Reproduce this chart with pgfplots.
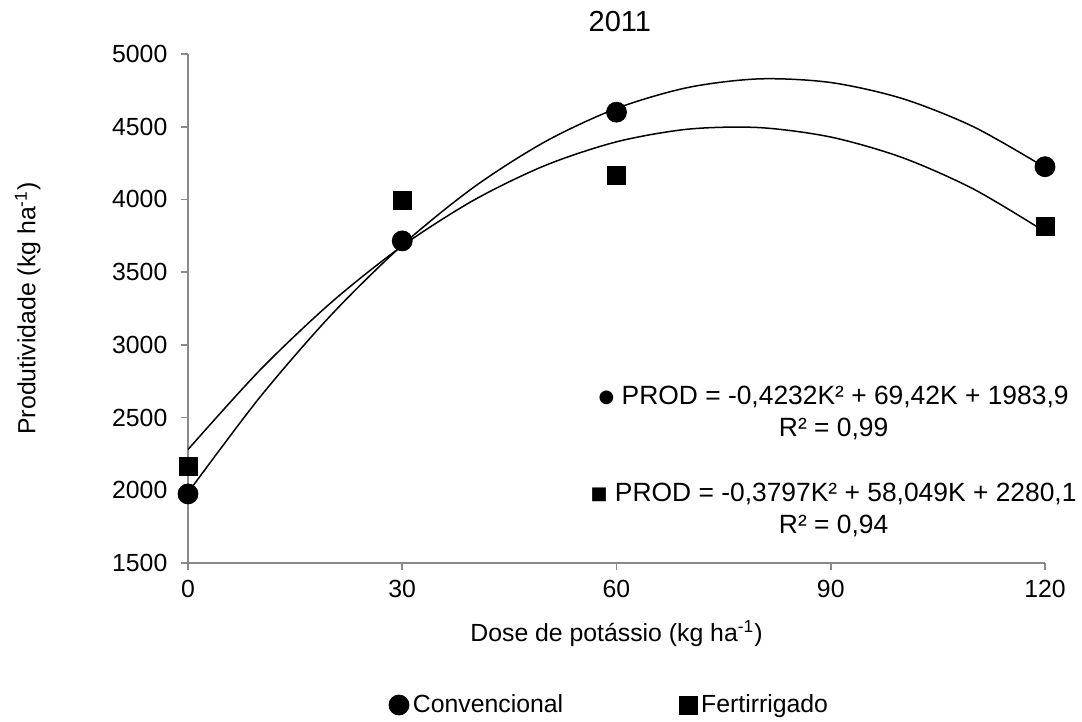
\documentclass[border=0pt]{standalone}
\usepackage{pgfplots}
\pgfplotsset{compat=1.18}
\usepackage{fontspec}
\setmainfont{Liberation Sans}
\newfontfamily\sym{DejaVu Sans}
\definecolor{axgray}{RGB}{137,137,137}
\newcommand\fs{\fontsize{12.4pt}{15pt}\selectfont}
\begin{document}
\fs
\begin{tikzpicture}
\path[use as bounding box] (-94pt,-79.5pt) rectangle (447pt,281.5pt);
\begin{axis}[
    scale only axis,
    width=428.5pt, height=254.5pt,
    xmin=0, xmax=120, ymin=1500, ymax=5000,
    xtick={0,30,60,90,120},
    ytick={1500,2000,...,5000},
    axis x line*=bottom, axis y line*=left,
    axis line style={axgray, line width=0.9pt, -},
    tick style={axgray, line width=0.9pt},
    tick align=outside, major tick length=3.5pt,
    /pgf/number format/assume math mode=true,
    /pgf/number format/1000 sep={},
    tick label style={font=\fs},
    xticklabel style={yshift=-1pt},
    yticklabel style={xshift=-2.5pt},
    xlabel={Dose de potássio (kg ha\textsuperscript{-1})},
    ylabel={Produtividade (kg ha\textsuperscript{-1})},
    label style={font=\fs},
    xlabel style={at={(axis description cs:0.5,-0.139)}, anchor=center},
    ylabel style={at={(axis description cs:-0.187,0.5)}, anchor=center},
    clip=false,
    legend style={draw=none, at={(0.493,-0.279)}, anchor=center,
        legend columns=2, font=\fs,
        /tikz/every even column/.append style={column sep=56pt},
        inner sep=0pt},
    legend image code/.code={\draw[#1] plot coordinates {(0.3em,0pt)};},
]
% trend lines (values of the fitted polynomials)
\addplot[black, line width=0.75pt, smooth, forget plot] coordinates {
    (0,1983.9) (10,2635.8) (20,3203.0) (30,3685.6) (40,4083.6) (50,4396.9)
    (60,4625.6) (70,4769.6) (80,4829.0) (90,4803.8) (100,4693.9) (110,4499.4) (120,4220.2)};
\addplot[black, line width=0.75pt, smooth, forget plot] coordinates {
    (0,2280.1) (10,2822.6) (20,3289.2) (30,3679.8) (40,3994.5) (50,4233.3)
    (60,4396.1) (70,4483.0) (80,4493.9) (90,4428.9) (100,4288.0) (110,4071.1) (120,3778.3)};
% data
\addplot[only marks, mark=*, mark size=5pt, black] coordinates {
    (0,1975) (30,3715) (60,4600) (120,4225)};
\addplot[only marks, mark=square*, mark size=4.5pt, black] coordinates {
    (0,2165) (30,3990) (60,4165) (120,3815)};
\legend{Convencional, Fertirrigado}
\node[font=\fontsize{14.5pt}{17pt}\selectfont, inner sep=0pt] at (rel axis cs:0.504,1.063) {2011};
\node[align=center, font=\fontsize{13.2pt}{16pt}\selectfont, inner sep=0pt] at (axis cs:90.4,2531)
    {\raisebox{0.8pt}{\sym\fontsize{9pt}{9pt}\selectfont ●} PROD = -0,4232K² + 69,42K + 1983,9\\R² = 0,99};
\node[align=center, font=\fontsize{13.2pt}{16pt}\selectfont, inner sep=0pt] at (axis cs:90.4,1868)
    {\raisebox{0.8pt}{\sym\fontsize{9pt}{9pt}\selectfont ■} PROD = -0,3797K² + 58,049K + 2280,1\\R² = 0,94};
\end{axis}
\end{tikzpicture}
\end{document}
